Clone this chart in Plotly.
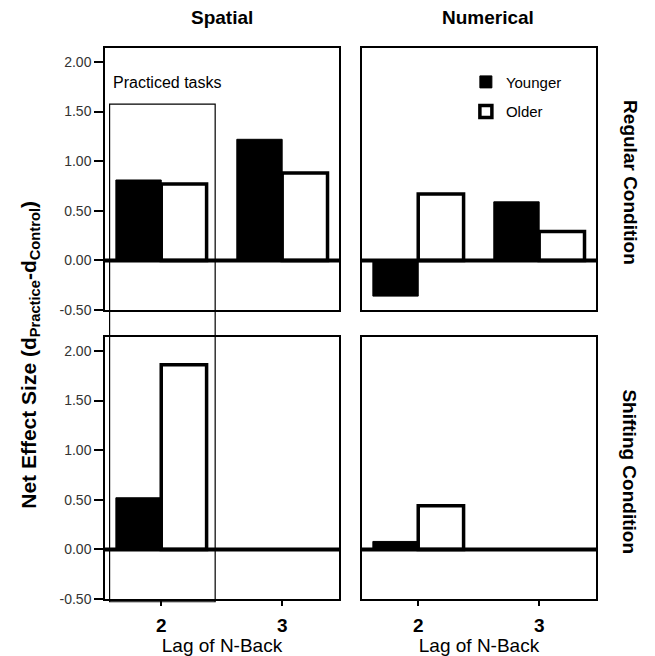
import plotly.graph_objects as go
from plotly.subplots import make_subplots

# ---- data ----
lags = [2, 3]
lag_labels = ["2", "3"]
columns = ["Spatial", "Numerical"]
rows = ["Regular Condition", "Shifting Condition"]

younger_spatial_regular = [0.81, 1.22]
older_spatial_regular = [0.77, 0.88]
younger_numerical_regular = [-0.36, 0.59]
older_numerical_regular = [0.67, 0.29]
younger_spatial_shifting = [0.52, None]
older_spatial_shifting = [1.86, None]
younger_numerical_shifting = [0.08, None]
older_numerical_shifting = [0.44, None]

y_tick_vals = [-0.5, 0.0, 0.5, 1.0, 1.5, 2.0]
y_tick_text = ["-0.50", "0.00", "0.50", "1.00", "1.50", "2.00"]

FONT = "Liberation Sans, Arial, sans-serif"

fig = make_subplots(rows=2, cols=2)

panels = [
    (1, 1, younger_spatial_regular, older_spatial_regular),
    (1, 2, younger_numerical_regular, older_numerical_regular),
    (2, 1, younger_spatial_shifting, older_spatial_shifting),
    (2, 2, younger_numerical_shifting, older_numerical_shifting),
]

first = True
for r, c, yv, ov in panels:
    fig.add_trace(go.Bar(x=lags, y=yv, name="Younger", legendgroup="younger",
                         showlegend=first,
                         marker=dict(color="black", line=dict(color="black", width=1))),
                  row=r, col=c)
    fig.add_trace(go.Bar(x=lags, y=ov, name="Older", legendgroup="older",
                         showlegend=first,
                         marker=dict(color="white", line=dict(color="black", width=3.5))),
                  row=r, col=c)
    first = False

# domains (paper)
xdom_left = [0.0, 0.4766]
xdom_right = [0.5234, 1.0]
ydom_top = [0.5245, 1.0]
ydom_bot = [0.0, 0.4755]
yrange = [-0.5, 2.14]
xrange = [1.535, 3.47]

axis_common = dict(showline=True, mirror=True, linecolor="black", linewidth=1.5,
                   showgrid=False, zeroline=False, automargin=False)

for i, (xd, yd) in enumerate([(xdom_left, ydom_top), (xdom_right, ydom_top),
                               (xdom_left, ydom_bot), (xdom_right, ydom_bot)], start=1):
    sfx = "" if i == 1 else str(i)
    is_left = i in (1, 3)
    is_bottom = i in (3, 4)
    xa = dict(domain=xd, range=xrange, tickvals=lags, ticktext=lag_labels,
              showticklabels=is_bottom, ticks="outside" if is_bottom else "",
              ticklen=5, tickwidth=1.5, tickcolor="black", ticklabelstandoff=3,
              tickfont=dict(family=FONT, size=19, color="black", weight="bold"),
              **axis_common)
    if is_bottom:
        xa["title"] = dict(text="Lag of N-Back",
                           font=dict(family=FONT, size=19, color="black"),
                           standoff=2)
    fig.update_layout({
        "xaxis" + sfx: xa,
        "yaxis" + sfx: dict(domain=yd, range=yrange, tickvals=y_tick_vals, ticktext=y_tick_text,
                            showticklabels=is_left, ticks="outside" if is_left else "",
                            ticklen=9, tickwidth=1.5, tickcolor="black",
                            tickfont=dict(family=FONT, size=14, color="#333333"),
                            **axis_common),
    })
    # thick zero line
    fig.add_shape(type="line", xref=f"x{sfx} domain", yref=f"y{sfx}",
                  x0=-0.005, x1=1.005, y0=0, y1=0,
                  line=dict(color="black", width=4), layer="above")

# Practiced tasks box (around lag 2 of the Spatial column, spanning both rows)
practiced_lag = 2
fig.add_shape(type="rect", xref="x", yref="paper",
              x0=practiced_lag - 0.427, x1=practiced_lag + 0.446,
              y0=-0.005, y1=0.898,
              line=dict(color="black", width=1.2), fillcolor="rgba(0,0,0,0)", layer="above")

annotations = [
    dict(text="Practiced tasks", x=0.0122, y=0.9365, xref="paper", yref="paper",
         xanchor="left", yanchor="middle", showarrow=False,
         font=dict(family=FONT, size=16, color="black")),
    dict(text=columns[0], x=sum(xdom_left) / 2, y=1.056, xref="paper", yref="paper",
         xanchor="center", yanchor="middle", showarrow=False,
         font=dict(family=FONT, size=19, color="black", weight="bold")),
    dict(text=columns[1], x=0.780, y=1.056, xref="paper", yref="paper",
         xanchor="center", yanchor="middle", showarrow=False,
         font=dict(family=FONT, size=19, color="black", weight="bold")),
    dict(text=rows[0], x=1.069, y=0.755, xref="paper", yref="paper", textangle=90,
         xanchor="center", yanchor="middle", showarrow=False,
         font=dict(family=FONT, size=19, color="black", weight="bold")),
    dict(text=rows[1], x=1.069, y=0.230, xref="paper", yref="paper", textangle=90,
         xanchor="center", yanchor="middle", showarrow=False,
         font=dict(family=FONT, size=19, color="black", weight="bold")),
    dict(text="Net Effect Size (d<sub>Practice</sub>-d<sub>Control</sub>)",
         x=-0.153, y=0.443, xref="paper", yref="paper", textangle=-90,
         xanchor="center", yanchor="middle", showarrow=False,
         font=dict(family=FONT, size=21, color="black", weight="bold")),
]

fig.update_layout(
    width=655, height=656,
    margin=dict(l=105, r=59, t=48, b=57, autoexpand=False),
    paper_bgcolor="white", plot_bgcolor="white",
    barmode="group", bargap=0.25, bargroupgap=0,
    annotations=annotations,
    showlegend=True,
    legend=dict(x=0.735, y=0.968, xanchor="left", yanchor="top",
                bgcolor="rgba(0,0,0,0)", borderwidth=0, tracegroupgap=7,
                font=dict(family=FONT, size=15, color="black")),
    font=dict(family=FONT),
)

fig.write_html("out.html")
